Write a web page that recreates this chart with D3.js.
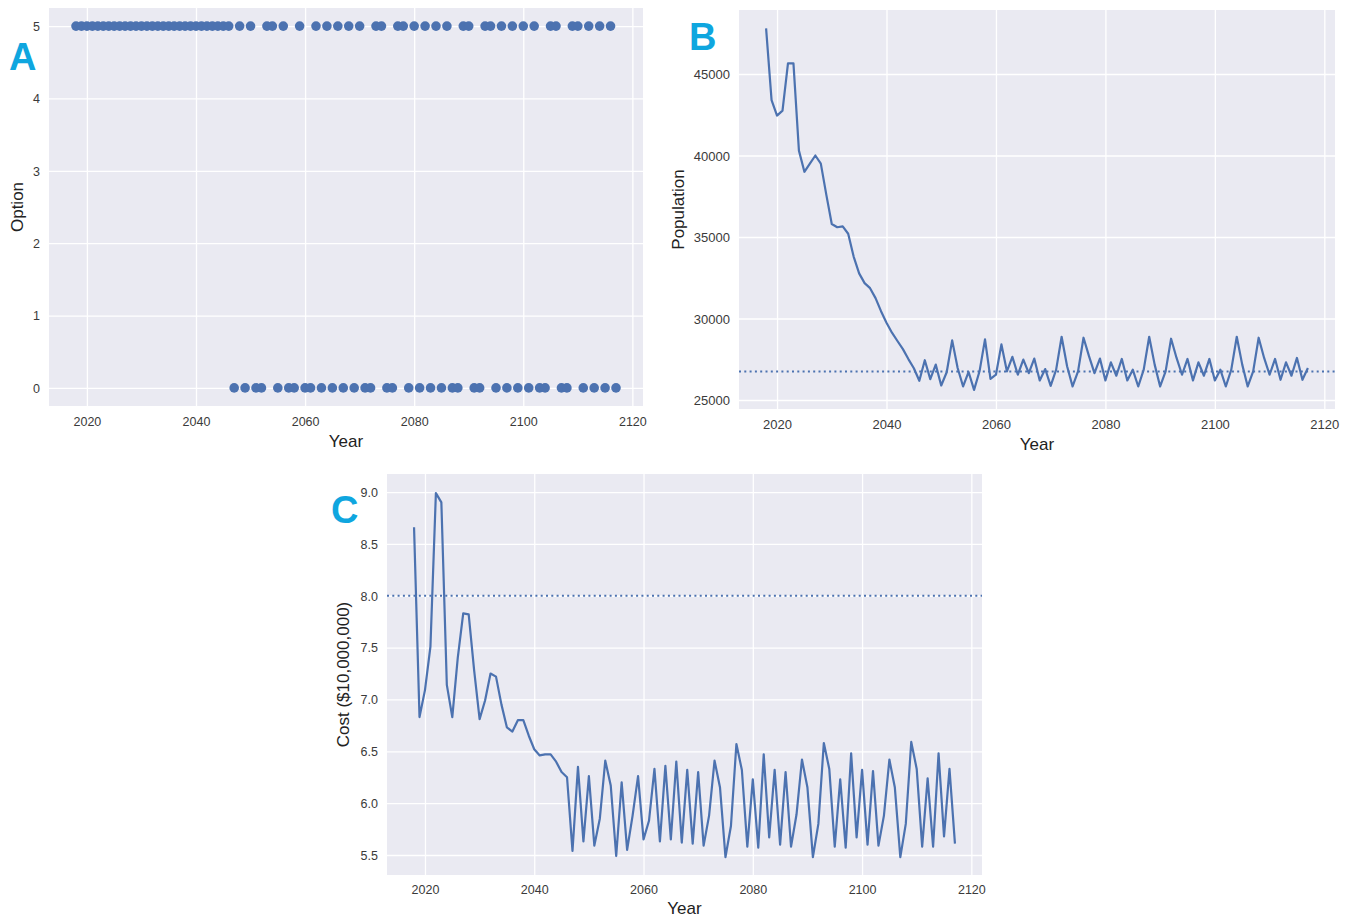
<!DOCTYPE html>
<html>
<head>
<meta charset="utf-8">
<script src="https://cdn.jsdelivr.net/npm/d3@7"></script>
<style>
  body { margin: 0; background: #ffffff; }
  svg text { font-family: "Liberation Sans", Arial, sans-serif; }
</style>
</head>
<body>
<svg id="fig" width="1352" height="919"></svg>
<script>
// Simulation years (one decision per year)
const years = d3.range(2018, 2118);

// Management option chosen each year
const optionValues = [
  5,5,5,5,5,5,5,5,5,5,            // 2018-2027
  5,5,5,5,5,5,5,5,5,5,            // 2028-2037
  5,5,5,5,5,5,5,5,5,0,            // 2038-2047
  5,0,5,0,0,5,5,0,5,0,            // 2048-2057
  0,5,0,0,5,0,5,0,5,0,            // 2058-2067
  5,0,5,0,0,5,5,0,0,5,            // 2068-2077
  5,0,5,0,5,0,5,0,5,0,            // 2078-2087
  0,5,5,0,0,5,5,0,5,0,            // 2088-2097
  5,0,5,0,5,0,0,5,5,0,            // 2098-2107
  0,5,5,0,5,0,5,0,5,0             // 2108-2117
];

// Population size each year
const populationValues = [
  47800, 43400, 42450, 42750, 45650, 45650, 40300, 39000, 39500, 40000, // 2018-2027
  39500, 37600, 35800, 35600, 35650, 35200, 33800, 32770, 32170, 31860, // 2028-2037
  31250, 30450, 29740, 29130, 28620, 28120, 27510, 26950, 26180, 27440, // 2038-2047
  26280, 27170, 25890, 26700, 28660, 26960, 25830, 26720, 25620, 26760, // 2048-2057
  28720, 26300, 26550, 28410, 26760, 27650, 26550, 27480, 26650, 27540, // 2058-2067
  26200, 26900, 25870, 26860, 28880, 27070, 25830, 26760, 28820, 27690, // 2068-2077
  26650, 27540, 26200, 27310, 26490, 27520, 26200, 26860, 25830, 26860, // 2078-2087
  28880, 27170, 25830, 26760, 28760, 27580, 26550, 27520, 26200, 27310, // 2088-2097
  26490, 27520, 26200, 26860, 25830, 26860, 28880, 27170, 25830, 26760, // 2098-2107
  28820, 27580, 26550, 27520, 26240, 27310, 26490, 27580, 26240, 26960  // 2108-2117
];

// Annual cost in units of $10,000,000
const costValues = [
  8.66, 6.83, 7.09, 7.51, 8.99, 8.90, 7.14, 6.83, 7.40, 7.83, // 2018-2027
  7.82, 7.28, 6.81, 6.99, 7.25, 7.22, 6.95, 6.73, 6.69, 6.80, // 2028-2037
  6.80, 6.65, 6.52, 6.46, 6.47, 6.47, 6.40, 6.30, 6.25, 5.54, // 2038-2047
  6.35, 5.63, 6.26, 5.59, 5.85, 6.41, 6.17, 5.49, 6.20, 5.55, // 2048-2057
  5.88, 6.26, 5.65, 5.83, 6.33, 5.63, 6.36, 5.65, 6.40, 5.62, // 2058-2067
  6.32, 5.61, 6.30, 5.59, 5.88, 6.41, 6.15, 5.48, 5.78, 6.57, // 2068-2077
  6.32, 5.58, 6.23, 5.57, 6.47, 5.67, 6.32, 5.60, 6.30, 5.58, // 2078-2087
  5.89, 6.42, 6.15, 5.48, 5.80, 6.58, 6.33, 5.58, 6.23, 5.57, // 2088-2097
  6.48, 5.67, 6.32, 5.60, 6.31, 5.59, 5.88, 6.42, 6.15, 5.48, // 2098-2107
  5.80, 6.59, 6.33, 5.58, 6.24, 5.58, 6.48, 5.68, 6.33, 5.61  // 2108-2117
];

// Reference levels drawn as dotted horizontal lines
const populationTarget = 26750;
const costBudget = 8.0;

// Tick labels
const yearTicks = [2020, 2040, 2060, 2080, 2100, 2120];
const optionTicks = [0, 1, 2, 3, 4, 5];
const populationTicks = [25000, 30000, 35000, 40000, 45000];
const costTicks = [5.5, 6.0, 6.5, 7.0, 7.5, 8.0, 8.5, 9.0];

const BLUE = "#4C72B0";
const PANEL_BG = "#EAEAF2";
const TEXT = "#3a3a3a";
const LETTER = "#0FA6DF";
const yearDomain = [2013.05, 2121.95];

const svg = d3.select("#fig");

function makePanel(cfg) {
  const g = svg.append("g");
  const x = d3.scaleLinear().domain(yearDomain).range([cfg.left, cfg.right]);
  const y = d3.scaleLinear().domain(cfg.yDomain).range([cfg.bottom, cfg.top]);
  const w = cfg.right - cfg.left, h = cfg.bottom - cfg.top;
  const tickFont = (cfg.tickSize || 12.5) + "px";

  g.append("rect")
    .attr("x", cfg.left).attr("y", cfg.top)
    .attr("width", w).attr("height", h)
    .attr("fill", PANEL_BG);

  // x axis with full-height white grid lines
  g.append("g")
    .attr("transform", `translate(0,${cfg.bottom})`)
    .call(d3.axisBottom(x).tickValues(yearTicks).tickSize(-h).tickFormat(d3.format("d")))
    .call(a => a.select(".domain").remove())
    .call(a => a.selectAll(".tick line").attr("stroke", "#ffffff").attr("stroke-width", 1.3))
    .call(a => a.selectAll(".tick text")
      .attr("y", cfg.xTickGap).attr("dy", null)
      .attr("fill", TEXT).style("font-size", tickFont));

  // y axis with full-width white grid lines
  g.append("g")
    .attr("transform", `translate(${cfg.left},0)`)
    .call(d3.axisLeft(y).tickValues(cfg.yTicks).tickSize(-w).tickFormat(cfg.yFormat))
    .call(a => a.select(".domain").remove())
    .call(a => a.selectAll(".tick line").attr("stroke", "#ffffff").attr("stroke-width", 1.3))
    .call(a => a.selectAll(".tick text")
      .attr("x", -9).attr("dy", "0.35em")
      .attr("fill", TEXT).style("font-size", tickFont));

  // axis titles
  g.append("text")
    .attr("x", (cfg.left + cfg.right) / 2).attr("y", cfg.bottom + cfg.xLabelGap)
    .attr("text-anchor", "middle").attr("fill", "#222")
    .style("font-size", "17px").text("Year");
  g.append("text")
    .attr("transform", `translate(${cfg.yLabelX},${(cfg.top + cfg.bottom) / 2}) rotate(-90)`)
    .attr("text-anchor", "middle").attr("fill", "#222")
    .style("font-size", "17px").text(cfg.yLabel);

  // panel letter
  svg.append("text")
    .attr("x", cfg.letterX).attr("y", cfg.letterY)
    .attr("fill", LETTER).style("font-size", "38px").style("font-weight", "bold")
    .text(cfg.letter);

  return { g, x, y };
}

const rows = (vals) => years.map((yr, i) => ({ year: yr, value: vals[i] }));

// Panel A: option chosen per year
{
  const { g, x, y } = makePanel({
    left: 49, right: 643, top: 8, bottom: 406,
    yDomain: [-0.25, 5.25], yTicks: optionTicks, yFormat: d3.format("d"),
    yLabel: "Option", yLabelX: 23, xTickGap: 20, xLabelGap: 41,
    letter: "A", letterX: 9, letterY: 70
  });
  g.append("g").selectAll("circle")
    .data(rows(optionValues))
    .join("circle")
    .attr("cx", d => x(d.year)).attr("cy", d => y(d.value))
    .attr("r", 4.8).attr("fill", BLUE);
}

// Panel B: population trajectory
{
  const { g, x, y } = makePanel({
    left: 739, right: 1335, top: 10, bottom: 409,
    yDomain: [24448, 48926], yTicks: populationTicks, yFormat: d3.format("d"),
    yLabel: "Population", yLabelX: 684, xTickGap: 20, xLabelGap: 41,
    letter: "B", letterX: 689, letterY: 50, tickSize: 13
  });
  g.append("line")
    .attr("x1", x.range()[0]).attr("x2", x.range()[1])
    .attr("y1", y(populationTarget)).attr("y2", y(populationTarget))
    .attr("stroke", BLUE).attr("stroke-width", 2.2).attr("stroke-dasharray", "2,3.3");
  g.append("path")
    .datum(rows(populationValues))
    .attr("fill", "none").attr("stroke", BLUE).attr("stroke-width", 2.2)
    .attr("stroke-linejoin", "round")
    .attr("d", d3.line().x(d => x(d.year)).y(d => y(d.value)));
}

// Panel C: annual cost
{
  const { g, x, y } = makePanel({
    left: 387, right: 982, top: 474, bottom: 875,
    yDomain: [5.307, 9.174], yTicks: costTicks, yFormat: d3.format(".1f"),
    yLabel: "Cost ($10,000,000)", yLabelX: 349, xTickGap: 19, xLabelGap: 39,
    letter: "C", letterX: 331, letterY: 523
  });
  g.append("line")
    .attr("x1", x.range()[0]).attr("x2", x.range()[1])
    .attr("y1", y(costBudget)).attr("y2", y(costBudget))
    .attr("stroke", BLUE).attr("stroke-width", 2.2).attr("stroke-dasharray", "2,3.3");
  g.append("path")
    .datum(rows(costValues))
    .attr("fill", "none").attr("stroke", BLUE).attr("stroke-width", 2.2)
    .attr("stroke-linejoin", "round")
    .attr("d", d3.line().x(d => x(d.year)).y(d => y(d.value)));
}
</script>
</body>
</html>
